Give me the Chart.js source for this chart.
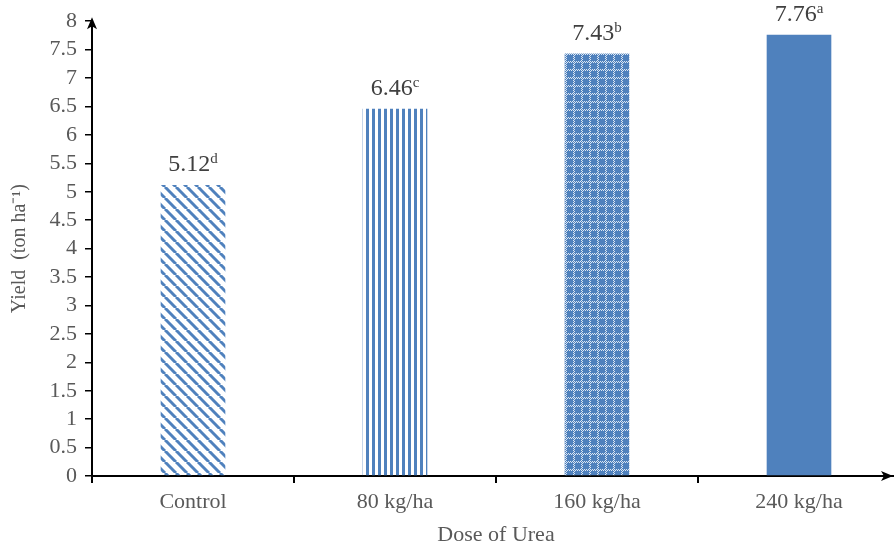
<!DOCTYPE html>
<html>
<head>
<meta charset="utf-8">
<script src="https://cdn.jsdelivr.net/npm/chart.js@4"></script>
<style>
  body { margin: 0; background: #fff; }
  #wrap { width: 894px; height: 552px; overflow: hidden; }
</style>
</head>
<body>
<div id="wrap"><canvas id="yieldChart" width="900" height="552"></canvas></div>
<script>
// data
const doses = ["Control", "80 kg/ha", "160 kg/ha", "240 kg/ha"];
const yieldValues = [5.12, 6.46, 7.43, 7.76];
const letters = ["d", "c", "b", "a"];

const BLUE = "#4F81BD";
const TEXT = "#595959";
const FONT = "'Liberation Serif', 'Times New Roman', serif";

/* -------------------------------
   FILL PATTERNS
--------------------------------*/
function makePattern(kind) {
  const c = document.createElement("canvas");
  const ctx = c.getContext("2d");
  if (kind === "diag") {
    c.width = 11; c.height = 11;
    ctx.strokeStyle = BLUE;
    ctx.lineWidth = 3;
    [-11, 0, 11].forEach(o => {
      ctx.beginPath();
      ctx.moveTo(o, 0);
      ctx.lineTo(o + 11, 11);
      ctx.stroke();
    });
  } else if (kind === "vert") {
    c.width = 6; c.height = 6;
    ctx.fillStyle = BLUE;
    ctx.fillRect(0, 0, 3, 6);
  } else if (kind === "weave") {
    c.width = 8; c.height = 8;
    ctx.fillStyle = BLUE;
    ctx.fillRect(0, 0, 8, 8);
    ctx.fillStyle = "#DCE6F2";
    for (let k = 0; k < 8; k++) {
      if (k % 2 === 0) {
        ctx.fillRect(k, 5, 1, 1);
        ctx.fillRect(5, k, 1, 1);
      } else {
        ctx.fillRect(k, 6, 1, 1);
        ctx.fillRect(6, k, 1, 1);
      }
    }
  } else {
    return BLUE;
  }
  return ctx.createPattern(c, "repeat");
}

const fills = [makePattern("diag"), makePattern("vert"), makePattern("weave"), BLUE];

/* -------------------------------
   LABELS + ARROWS
--------------------------------*/
const extrasPlugin = {
  id: "extras",
  afterDatasetsDraw(chart) {
    const ctx = chart.ctx;
    const meta = chart.getDatasetMeta(0);
    ctx.save();
    meta.data.forEach((bar, i) => {
      const main = yieldValues[i].toFixed(2);
      ctx.font = "24px " + FONT;
      const w1 = ctx.measureText(main).width;
      ctx.font = "15px " + FONT;
      const w2 = ctx.measureText(letters[i]).width;
      const x0 = bar.x - (w1 + w2) / 2;
      const y0 = bar.y - 14;
      ctx.fillStyle = "#404040";
      ctx.textBaseline = "alphabetic";
      ctx.textAlign = "left";
      ctx.font = "24px " + FONT;
      ctx.fillText(main, x0, y0);
      ctx.font = "15px " + FONT;
      ctx.fillText(letters[i], x0 + w1, y0 - 8);
    });

    // axis arrows (x arrow sits at the visible right edge)
    const a = chart.chartArea;
    const xr = Math.min(a.right, 893);
    ctx.fillStyle = "#000";
    ctx.beginPath();
    ctx.moveTo(a.left, a.top - 4);
    ctx.lineTo(a.left - 5, a.top + 8);
    ctx.lineTo(a.left, a.top + 5);
    ctx.lineTo(a.left + 5, a.top + 8);
    ctx.closePath();
    ctx.fill();
    ctx.beginPath();
    ctx.moveTo(xr, a.bottom);
    ctx.lineTo(xr - 12, a.bottom - 5);
    ctx.lineTo(xr - 9, a.bottom);
    ctx.lineTo(xr - 12, a.bottom + 5);
    ctx.closePath();
    ctx.fill();
    ctx.restore();
  }
};

/* -------------------------------
   CHART
--------------------------------*/
new Chart(document.getElementById("yieldChart"), {
  type: "bar",
  data: {
    labels: doses,
    datasets: [{
      data: yieldValues,
      backgroundColor: fills,
      borderWidth: 0,
      categoryPercentage: 1,
      barPercentage: 0.32
    }]
  },
  options: {
    responsive: false,
    animation: false,
    layout: { padding: { top: 20, right: 0, left: 4, bottom: 0 } },
    plugins: {
      legend: { display: false },
      tooltip: { enabled: false }
    },
    scales: {
      x: {
        afterFit(scale) { scale.height = 76; },
        grid: { drawOnChartArea: false, offset: true, tickLength: 7, color: "#000", lineWidth: 2 },
        border: { color: "#000", width: 2 },
        ticks: { color: TEXT, font: { family: FONT, size: 22 }, padding: 6 },
        title: { display: true, text: "Dose of Urea", color: TEXT, font: { family: FONT, size: 22 }, padding: { top: 10 } }
      },
      y: {
        afterFit(scale) { scale.width = 88; },
        min: 0,
        max: 8,
        grid: { drawOnChartArea: false, tickLength: 7, color: "#000", lineWidth: 1.5 },
        border: { color: "#000", width: 2 },
        ticks: { stepSize: 0.5, color: TEXT, font: { family: FONT, size: 22 }, padding: 8, autoSkip: false,
                 callback: v => String(v) },
        title: { display: true, text: "Yield  (ton ha⁻¹)", color: TEXT, font: { family: FONT, size: 20 }, padding: { bottom: 4 } }
      }
    }
  },
  plugins: [extrasPlugin]
});
</script>
</body>
</html>
